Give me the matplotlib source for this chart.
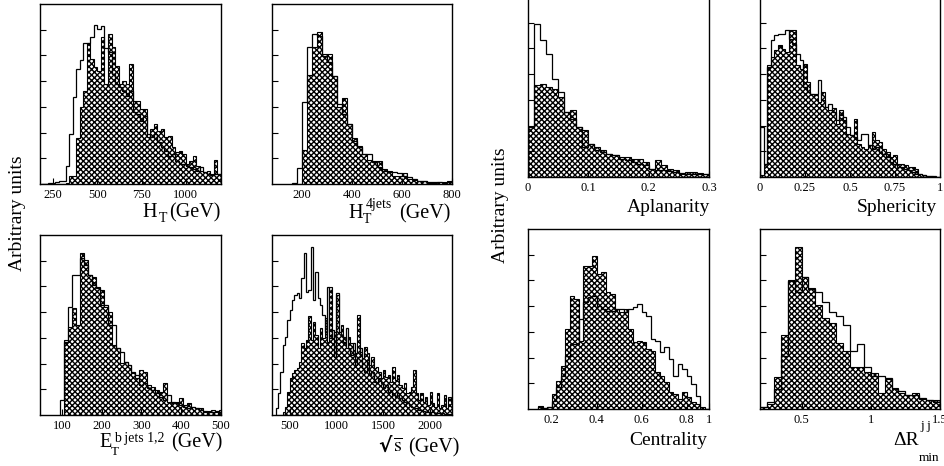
import matplotlib
matplotlib.use('Agg')
import matplotlib.pyplot as plt
import numpy as np

plt.rcParams['font.family'] = ['Liberation Serif', 'DejaVu Serif']
plt.rcParams['mathtext.fontset'] = 'stix'
plt.rcParams['hatch.linewidth'] = 1.0

W, H = 945, 466

# ---- data (arbitrary units) ----
# H_T, 20 GeV bins from 180
ht_lo, ht_w = 180, 20
ht_hatch = [0, 0, 0, 0, 0, 0, 0, 3, 25, 25, 137, 230, 280, 422, 375, 350, 340, 440, 300, 450,
            410, 355, 300, 310, 300, 360, 250, 250, 225, 225, 140, 165, 180, 160, 165, 140, 145,
            110, 95, 100, 90, 60, 70, 85, 55, 40, 35, 40, 30, 72, 30]
ht_open = [0, 0, 3, 3, 5, 8, 10, 55, 150, 262, 345, 372, 422, 422, 440, 477, 464, 474, 407, 395,
           330, 300, 290, 280, 265, 280, 215, 210, 190, 205, 150, 140, 150, 125, 110, 100, 85,
           90, 70, 60, 60, 55, 50, 45, 40, 50, 35, 30, 28, 30, 30]

# H_T 4 jets, 20 GeV bins from 160
ht4_lo, ht4_w = 160, 20
ht4_hatch = [0, 0, 102, 326, 410, 457, 390, 390, 325, 230, 257, 180, 138, 115, 90, 72, 70, 70,
             45, 40, 25, 25, 32, 15, 12, 8, 10, 3, 3, 5, 5, 10]
ht4_open = [3, 47, 245, 410, 450, 445, 385, 367, 325, 240, 210, 180, 130, 110, 90, 90, 65, 50,
            40, 35, 35, 32, 25, 20, 15, 10, 8, 5, 5, 5, 3, 5]

# E_T b jets 1,2, 10 GeV bins from 95
et_lo, et_w = 95, 10
et_hatch = [0, 225, 265, 320, 270, 487, 465, 420, 415, 385, 375, 325, 310, 210, 200, 155, 160,
            150, 125, 110, 135, 130, 90, 85, 75, 70, 95, 40, 35, 40, 50, 30, 35, 25, 20, 20, 10,
            12, 15, 10, 15]
et_open = [45, 220, 323, 420, 420, 470, 450, 420, 390, 380, 330, 330, 270, 270, 200, 190, 160,
           150, 130, 120, 90, 95, 80, 75, 65, 55, 45, 60, 40, 35, 30, 25, 20, 25, 20, 15, 12, 10,
           10, 12, 8]

# sqrt(s), 25 GeV bins from 350
rs_lo, rs_w = 350, 25
rs_hatch = [0, 0, 0, 10, 25, 70, 110, 125, 135, 140, 160, 215, 200, 225, 297, 225, 280, 240, 200,
            260, 230, 290, 220, 385, 230, 250, 360, 250, 270, 235, 200, 235, 215, 195, 185, 300,
            190, 170, 205, 185, 150, 175, 140, 145, 130, 110, 135, 115, 120, 100, 145, 105, 120,
            90, 80, 95, 65, 70, 85, 135, 65, 45, 65, 40, 55, 30, 70, 35, 25, 65, 20, 30, 60, 20,
            55, 40]
rs_open = [20, 65, 130, 210, 235, 285, 315, 345, 360, 365, 350, 410, 485, 370, 375, 505, 345, 430,
           350, 330, 300, 250, 385, 230, 255, 175, 365, 250, 240, 220, 260, 200, 180, 215, 150,
           175, 200, 140, 130, 165, 120, 130, 100, 95, 110, 95, 80, 90, 70, 75, 60, 55, 65, 50,
           45, 40, 35, 30, 25, 20, 20, 15, 15, 12, 10, 10, 8, 8, 6, 5, 5, 5, 4, 3, 3, 2]

# Aplanarity, 0.01 bins from 0
ap_lo, ap_w = 0.0, 0.01
ap_hatch = [150, 275, 280, 270, 265, 240, 195, 200, 150, 140, 100, 90, 80, 70, 65, 60, 60, 55,
            55, 45, 25, 50, 35, 25, 20, 10, 15, 15, 12, 8]
ap_open = [150, 460, 410, 370, 295, 255, 195, 175, 150, 90, 100, 80, 75, 70, 65, 55, 50, 45, 40,
           35, 25, 22, 20, 18, 15, 12, 10, 10, 8, 8]

# Sphericity, 0.02 bins from 0
sp_lo, sp_w = 0.0, 0.02
sp_hatch = [5, 40, 335, 360, 380, 395, 385, 375, 440, 440, 335, 325, 340, 285, 250, 245, 225, 255,
            210, 200, 208, 160, 200, 170, 130, 125, 175, 100, 90, 85, 95, 135, 110, 105, 85, 75,
            60, 65, 40, 40, 35, 30, 30, 25, 10, 5, 3, 3, 0, 0]
sp_open = [150, 40, 330, 410, 425, 430, 430, 440, 415, 400, 370, 350, 270, 255, 250, 250, 290,
           230, 210, 220, 195, 170, 185, 180, 150, 125, 120, 110, 130, 130, 95, 85, 90, 75, 70,
           60, 45, 40, 30, 30, 25, 20, 15, 10, 8, 5, 3, 3, 2, 0]

# Centrality, 0.02 bins from 0.14
ce_lo, ce_w = 0.14, 0.02
ce_hatch = [10, 3, 5, 45, 85, 130, 240, 340, 330, 205, 430, 430, 460, 405, 410, 350, 345, 300,
            290, 300, 240, 200, 205, 200, 180, 175, 110, 100, 80, 50, 45, 30, 50, 35, 22, 15, 5, 0]
ce_open = [5, 3, 5, 25, 65, 100, 160, 195, 195, 270, 320, 335, 340, 310, 300, 295, 295, 300, 300,
           290, 300, 305, 315, 290, 280, 210, 205, 172, 185, 150, 100, 135, 120, 100, 75, 38, 0, 0]

# Delta R min jj, 0.05 bins from 0.2
dr_lo, dr_w = 0.2, 0.05
dr_hatch = [5, 15, 95, 222, 387, 485, 397, 362, 312, 272, 257, 197, 175, 127, 127, 112, 107, 47,
            89, 62, 47, 42, 49, 30, 27, 27]
dr_open = [5, 22, 60, 160, 385, 352, 395, 360, 350, 320, 292, 280, 252, 175, 195, 127, 100, 100,
           92, 60, 55, 42, 42, 32, 27, 22]


def px_axes(fig, x0, y0, x1, y1):
    return fig.add_axes([x0 / W, 1 - y1 / H, (x1 - x0) / W, (y1 - y0) / H])


def draw(ax, lo, width, hatched, outline, xlim, ticks, labels):
    e1 = lo + width * np.arange(len(hatched) + 1)
    e2 = lo + width * np.arange(len(outline) + 1)
    ax.stairs(hatched, e1, fill=True, facecolor='white', edgecolor='black',
              hatch='xxxxxx', lw=0.8)
    ax.stairs(outline, e2, color='black', lw=0.9)
    ax.set_xlim(*xlim)
    ax.set_ylim(0, 540)
    ax.set_yticks(np.arange(1, 7) * 540 / 7)
    ax.set_xticks(ticks)
    ax.set_xticklabels(labels)
    ax.tick_params(direction='in', labelsize=9, pad=3.5, length=4, width=0.8)
    ax.tick_params(axis='y', labelleft=False)
    for s in ax.spines.values():
        s.set_linewidth(1.0)


def ftext(x, y, s, **kw):
    # x, y in picture pixels, y is the text baseline unless va says otherwise
    kw.setdefault('va', 'baseline')
    fig.text(x / W, 1 - y / H, s, **kw)


fig = plt.figure(figsize=(W / 100, H / 100), dpi=100)

ax = px_axes(fig, 40, 4, 221, 184)
draw(ax, ht_lo, ht_w, ht_hatch, ht_open, (175, 1200), [250, 500, 750, 1000],
     ['250', '500', '750', '1000'])
ax = px_axes(fig, 272, 4, 452, 184)
draw(ax, ht4_lo, ht4_w, ht4_hatch, ht4_open, (80, 800), [200, 400, 600, 800],
     ['200', '400', '600', '800'])
ax = px_axes(fig, 40, 235, 221, 415)
draw(ax, et_lo, et_w, et_hatch, et_open, (45, 500), [100, 200, 300, 400, 500],
     ['100', '200', '300', '400', '500'])
ax = px_axes(fig, 272, 235, 452, 415)
draw(ax, rs_lo, rs_w, rs_hatch, rs_open, (310, 2240), [500, 1000, 1500, 2000],
     ['500', '1000', '1500', '2000'])

ax = px_axes(fig, 528, -3, 709, 177)
draw(ax, ap_lo, ap_w, ap_hatch, ap_open, (0, 0.3), [0, 0.1, 0.2, 0.3],
     ['0', '0.1', '0.2', '0.3'])
ax = px_axes(fig, 760, -3, 940, 177)
draw(ax, sp_lo, sp_w, sp_hatch, sp_open, (0, 1), [0, 0.25, 0.5, 0.75, 1],
     ['0', '0.25', '0.5', '0.75', '1'])
ax = px_axes(fig, 528, 229, 709, 409)
draw(ax, ce_lo, ce_w, ce_hatch, ce_open, (0.095, 0.9), [0.2, 0.4, 0.6, 0.8, 0.9],
     ['0.2', '0.4', '0.6', '0.8', '1'])
ax = px_axes(fig, 760, 229, 940, 409)
draw(ax, dr_lo, dr_w, dr_hatch, dr_open, (0.2, 1.5), [0.5, 1, 1.5],
     ['0.5', '1', '1.5'])

# axis titles, built from pieces so sub/superscripts sit as in the original
big, small = 14.5, 10
ftext(142, 217, 'H', fontsize=big)
ftext(159, 222, 'T', fontsize=small)
ftext(221, 217, '(GeV)', fontsize=big, ha='right')

ftext(348, 218, 'H', fontsize=big)
ftext(363, 223, 'T', fontsize=small)
ftext(366, 208, '4jets', fontsize=small)
ftext(451, 218, '(GeV)', fontsize=big, ha='right')

ftext(99, 447, 'E', fontsize=big)
ftext(111, 455, 'T', fontsize=9.5)
ftext(114, 442, 'b jets 1,2', fontsize=10)
ftext(223, 447, '(GeV)', fontsize=big, ha='right')

ftext(378, 452, '√', fontsize=big, fontweight='bold', family='DejaVu Sans')
ftext(393, 452, r'$\overline{\mathrm{s}}$', fontsize=big)
ftext(460, 452, '(GeV)', fontsize=big, ha='right')

ftext(710, 212, 'Aplanarity', fontsize=14, ha='right')
ftext(937, 212, 'Sphericity', fontsize=14, ha='right')
ftext(707, 445, 'Centrality', fontsize=14, ha='right')
ftext(893, 445, 'ΔR', fontsize=14)
ftext(920, 429, 'j j', fontsize=9.5)
ftext(919, 461, 'min', fontsize=9.5)

ftext(18, 213, 'Arbitrary units', fontsize=14, rotation=90, ha='center', va='center')
ftext(501, 205, 'Arbitrary units', fontsize=14, rotation=90, ha='center', va='center')

fig.savefig('out.png', dpi=100)
